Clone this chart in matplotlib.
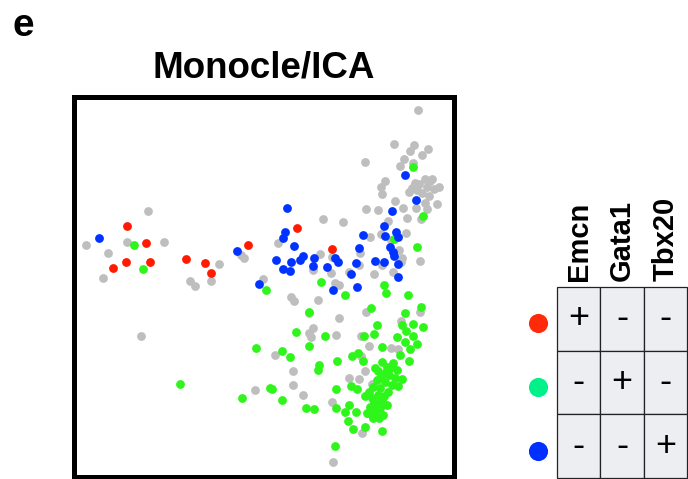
import matplotlib
matplotlib.use('Agg')
import matplotlib.pyplot as plt
from matplotlib.patches import Rectangle

plt.rcParams['font.family'] = ['Liberation Sans', 'DejaVu Sans']

# Coordenadas de las celulas (componentes ICA, unidades arbitrarias)
grey_x = [148, 86, 127, 164, 108, 103, 219, 190, 195, 211, 241, 244, 263,
          418, 394, 414, 410, 428, 422, 404, 400, 413, 365,
          425, 432, 419, 427, 434, 439, 412, 417, 422, 429, 437, 425, 409, 430, 415,
          385, 381, 382, 395, 403, 416, 427, 366, 378, 421, 407, 388,
          323, 343, 278, 370, 381, 391, 406, 360, 399, 402, 401, 420,
          320, 332, 313, 331, 359, 382, 349, 374, 393, 335, 339,
          141, 255,
          291, 294, 318, 366, 420, 309, 339, 401, 313, 309, 311, 336, 361,
          275, 369, 391, 398, 361, 293, 293, 303, 349, 359, 365, 372, 332, 362, 333]
grey_y = [211, 245, 242, 242, 253, 278, 264, 281, 286, 281, 255, 258, 279,
          110, 144, 145, 151, 149, 155, 159, 166, 163, 162,
          179, 179, 184, 187, 189, 187, 188, 190, 193, 196, 204, 203, 192, 181, 183,
          181, 187, 194, 201, 208, 208, 209, 209, 210, 219, 218, 221,
          219, 222, 243, 237, 234, 240, 233, 253, 250, 258, 262, 261,
          254, 257, 270, 273, 265, 265, 272, 274, 272, 283, 285,
          336, 390,
          297, 301, 300, 312, 312, 313, 318, 321, 328, 333, 337, 335, 336,
          355, 346, 348, 349, 356, 371, 385, 395, 378, 379, 371, 384, 402, 433, 462]

red_x = [127, 146, 113, 126, 150, 186, 205, 211, 248, 297, 332]
red_y = [226, 243, 268, 262, 262, 259, 263, 273, 245, 228, 249]

blue_x = [99, 237, 259, 405, 416, 392, 287, 384, 285, 283, 294, 363, 385, 396, 398,
          359, 390, 393, 394, 276, 283, 290, 291, 300, 303, 314, 313, 327, 335, 338,
          356, 375, 384, 398, 351, 398, 333, 357]
blue_y = [238, 251, 284, 175, 200, 211, 208, 226, 232, 238, 246, 235, 236, 232, 237,
          248, 247, 252, 256, 260, 269, 271, 262, 260, 256, 258, 266, 267, 258, 262,
          263, 261, 262, 264, 274, 277, 290, 287]

green_x = [134, 143, 266, 413, 423, 394, 417, 321, 384, 256, 180, 242, 270,
           345, 386, 408, 371, 421, 405, 309, 377, 402, 413, 423, 406,
           296, 325, 364, 374, 397, 413, 405, 417,
           309, 282, 290, 382, 410, 400, 409, 352, 358, 363, 337, 319, 318,
           375, 382, 387, 393, 397, 389, 381, 377, 385, 395, 402, 373, 380, 388,
           378, 372, 382, 377, 370, 380, 375, 367, 373, 383,
           351, 357, 336, 365, 272, 282, 306, 314, 336, 349, 345, 356, 348, 353,
           365, 382, 368, 373, 335,
           386, 392, 378, 384, 374, 390, 398, 379, 369, 387]
green_y = [245, 269, 290, 167, 216, 239, 247, 282, 285, 348, 384, 398, 388,
           295, 293, 295, 308, 307, 313, 312, 325, 325, 324, 327, 331,
           332, 336, 336, 334, 337, 336, 342, 344,
           346, 351, 357, 347, 349, 355, 361, 356, 353, 361, 361, 365, 370,
           368, 362, 367, 363, 370, 375, 377, 380, 382, 378, 379, 387, 388, 392,
           395, 398, 400, 405, 407, 408, 412, 413, 417, 415,
           386, 389, 389, 396, 389, 400, 408, 409, 408, 405, 412, 412, 421, 429,
           427, 431, 413, 418, 446,
           372, 385, 371, 396, 402, 368, 386, 418, 392, 405]

# Tabla de marcadores
genes = ['Emcn', 'Gata1', 'Tbx20']
signs = [['+', '-', '-'],
         ['-', '+', '-'],
         ['-', '-', '+']]
legend_colors = ['#ff2a0a', '#00f08a', '#0030ff']

fig = plt.figure(figsize=(6.88, 4.79), dpi=100)

ax = fig.add_axes([74 / 688, 2 / 479, 380 / 688, 380 / 479])
ax.scatter(grey_x, grey_y, s=40, c='#bebebe', linewidths=0, zorder=2)
ax.scatter(green_x, green_y, s=40, c='#2ef51a', linewidths=0, zorder=3)
ax.scatter(red_x, red_y, s=40, c='#ff1a00', linewidths=0, zorder=4)
ax.scatter(blue_x, blue_y, s=40, c='#0033ff', linewidths=0, zorder=4)
ax.set_xlim(74, 454)
ax.set_ylim(477, 97)
ax.set_xticks([])
ax.set_yticks([])
for sp in ax.spines.values():
    sp.set_linewidth(3.6)
    sp.set_color('black')
ax.set_title('Monocle/ICA', fontsize=26.5, fontweight='bold', pad=14)

fig.text(12 / 688, 1 - 26 / 479, 'e', fontsize=28, fontweight='bold', va='center')

# Ejes de la tabla
tx = fig.add_axes([557 / 688, 1 / 479, 130 / 688, 191 / 479])
tx.set_xlim(0, 3)
tx.set_ylim(3, 0)
tx.axis('off')
for i in range(3):
    for j in range(3):
        tx.add_patch(Rectangle((j, i), 1, 1, facecolor='#eceef2', edgecolor='#222222',
                               linewidth=0.9, clip_on=False))
        tx.text(j + 0.5, i + 0.5, signs[i][j], ha='center', va='center', fontsize=26)
    tx.scatter([-0.44], [i + 0.57], s=190, c=legend_colors[i], linewidths=0, clip_on=False)
for j, g in enumerate(genes):
    tx.text(j + 0.5, -0.1, g, rotation=90, ha='center', va='bottom',
            fontsize=21, fontweight='bold')

fig.savefig('out.png', dpi=100)
